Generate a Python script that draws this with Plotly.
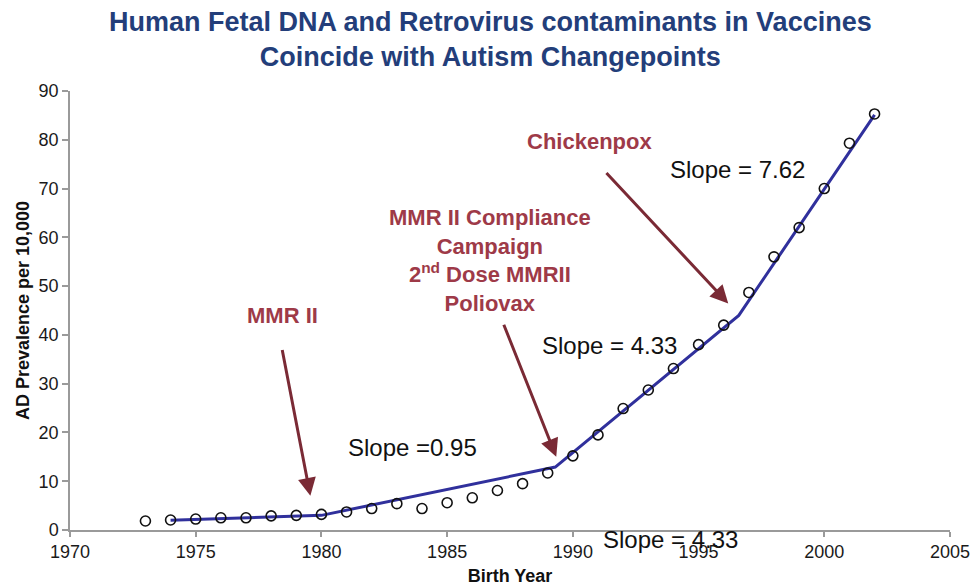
import plotly.graph_objects as go

# Observed data (birth year vs AD prevalence per 10,000)
years = [1973, 1974, 1975, 1976, 1977, 1978, 1979, 1980, 1981, 1982, 1983, 1984,
         1985, 1986, 1987, 1988, 1989, 1990, 1991, 1992, 1993, 1994, 1995, 1996,
         1997, 1998, 1999, 2000, 2001, 2002]
prevalence = [1.85, 2.05, 2.25, 2.5, 2.5, 2.9, 3.0, 3.2, 3.7, 4.4, 5.4, 4.4,
              5.6, 6.6, 8.1, 9.5, 11.7, 15.2, 19.5, 24.9, 28.7, 33.1, 38.0, 42.0,
              48.7, 56.0, 62.0, 70.0, 79.3, 85.3]

# Piecewise fit (changepoints)
fit_years = [1974, 1980, 1989.3, 1996.6, 2002]
fit_values = [2.0, 3.0, 12.9, 44.0, 85.1]

x_ticks = [1970, 1975, 1980, 1985, 1990, 1995, 2000, 2005]
y_ticks = [0, 10, 20, 30, 40, 50, 60, 70, 80, 90]
Y_MAX = 90

title_text = "Human Fetal DNA and Retrovirus contaminants in Vaccines<br>Coincide with Autism Changepoints"

# Event labels
event_labels = ["MMR II",
                "MMR II Compliance<br>Campaign<br>2<sup>nd</sup> Dose MMRII<br>Poliovax",
                "Chickenpox"]
event_x = [1978.45, 1986.72, 1990.67]
event_y = [44.0, 55.3, 79.6]

# Arrows: tail -> head
arrow_tail_x = [1978.43, 1987.23, 1991.28]
arrow_tail_y = [37.2, 42.4, 73.5]
arrow_head_x = [1979.56, 1989.34, 1996.18]
arrow_head_y = [7.0, 15.0, 46.45]

slope_labels = ["Slope =0.95", "Slope = 4.33", "Slope = 7.62", "Slope = 4.33"]
slope_x = [1983.63, 1991.47, 1996.56, 1993.89]
slope_y = [17.0, 37.9, 73.9, -1.97]

FONT = "Liberation Sans, Arial, sans-serif"
EVENT_COLOR = "#9E3A48"
ARROW_COLOR = "#7A2A35"

fig = go.Figure()

fig.add_trace(go.Scatter(
    x=fit_years, y=fit_values, mode="lines",
    line=dict(color="#30309C", width=3),
    showlegend=False, hoverinfo="skip"))

fig.add_trace(go.Scatter(
    x=years, y=prevalence, mode="markers",
    marker=dict(symbol="circle-open", size=10, color="#111111",
                line=dict(width=1.6, color="#111111")),
    showlegend=False))

annotations = [dict(
    x=0.478, y=1.196, xref="paper", yref="paper", text=title_text, showarrow=False,
    xanchor="center", yanchor="top", align="center",
    font=dict(family=FONT, size=27, color="#233E7A", weight="bold"))]

for t, x, y in zip(event_labels, event_x, event_y):
    annotations.append(dict(
        x=x, y=y, xref="x", yref="y", text=t, showarrow=False,
        font=dict(family=FONT, size=22, color=EVENT_COLOR, weight="bold"),
        align="center", xanchor="center", yanchor="middle"))

for tx, ty, hx, hy in zip(arrow_tail_x, arrow_tail_y, arrow_head_x, arrow_head_y):
    annotations.append(dict(
        x=hx, y=hy, ax=tx, ay=ty, xref="x", yref="y", axref="x", ayref="y",
        text="", showarrow=True, arrowhead=2, arrowsize=1.2, arrowwidth=3,
        arrowcolor=ARROW_COLOR))

for t, x, y in zip(slope_labels, slope_x, slope_y):
    # paper-referenced y so labels below the axis range are still drawn
    annotations.append(dict(
        x=x, y=y / Y_MAX, xref="x", yref="paper", text=t, showarrow=False,
        font=dict(family=FONT, size=24, color="#111111"),
        xanchor="center", yanchor="middle"))

fig.update_layout(
    width=972, height=586,
    margin=dict(l=70, r=22, t=91, b=56, autoexpand=False),
    paper_bgcolor="white", plot_bgcolor="white",
    annotations=annotations,
    xaxis=dict(
        range=[1970, 2005], tickvals=x_ticks, ticktext=[str(v) for v in x_ticks],
        showgrid=False, zeroline=False, showline=True, linecolor="#9a9a9a", linewidth=1.5,
        ticks="outside", ticklen=5, tickcolor="#9a9a9a", tickwidth=1.5,
        tickfont=dict(family=FONT, size=18, color="#1a1a1a"),
        title=dict(text="Birth Year", standoff=9,
                   font=dict(family=FONT, size=18, color="#111111", weight="bold"))),
    yaxis=dict(
        range=[0, Y_MAX], tickvals=y_ticks, ticktext=[str(v) for v in y_ticks],
        showgrid=False, zeroline=False, showline=True, linecolor="#9a9a9a", linewidth=1.5,
        ticks="outside", ticklen=6, tickcolor="#9a9a9a", tickwidth=1.5,
        tickfont=dict(family=FONT, size=18, color="#1a1a1a"),
        title=dict(text="AD Prevalence per 10,000", standoff=4,
                   font=dict(family=FONT, size=18, color="#111111", weight="bold"))),
)

fig.write_html("out.html", config={"displayModeBar": False},
               post_script="document.body.style.margin='0';document.body.style.padding='0';")
